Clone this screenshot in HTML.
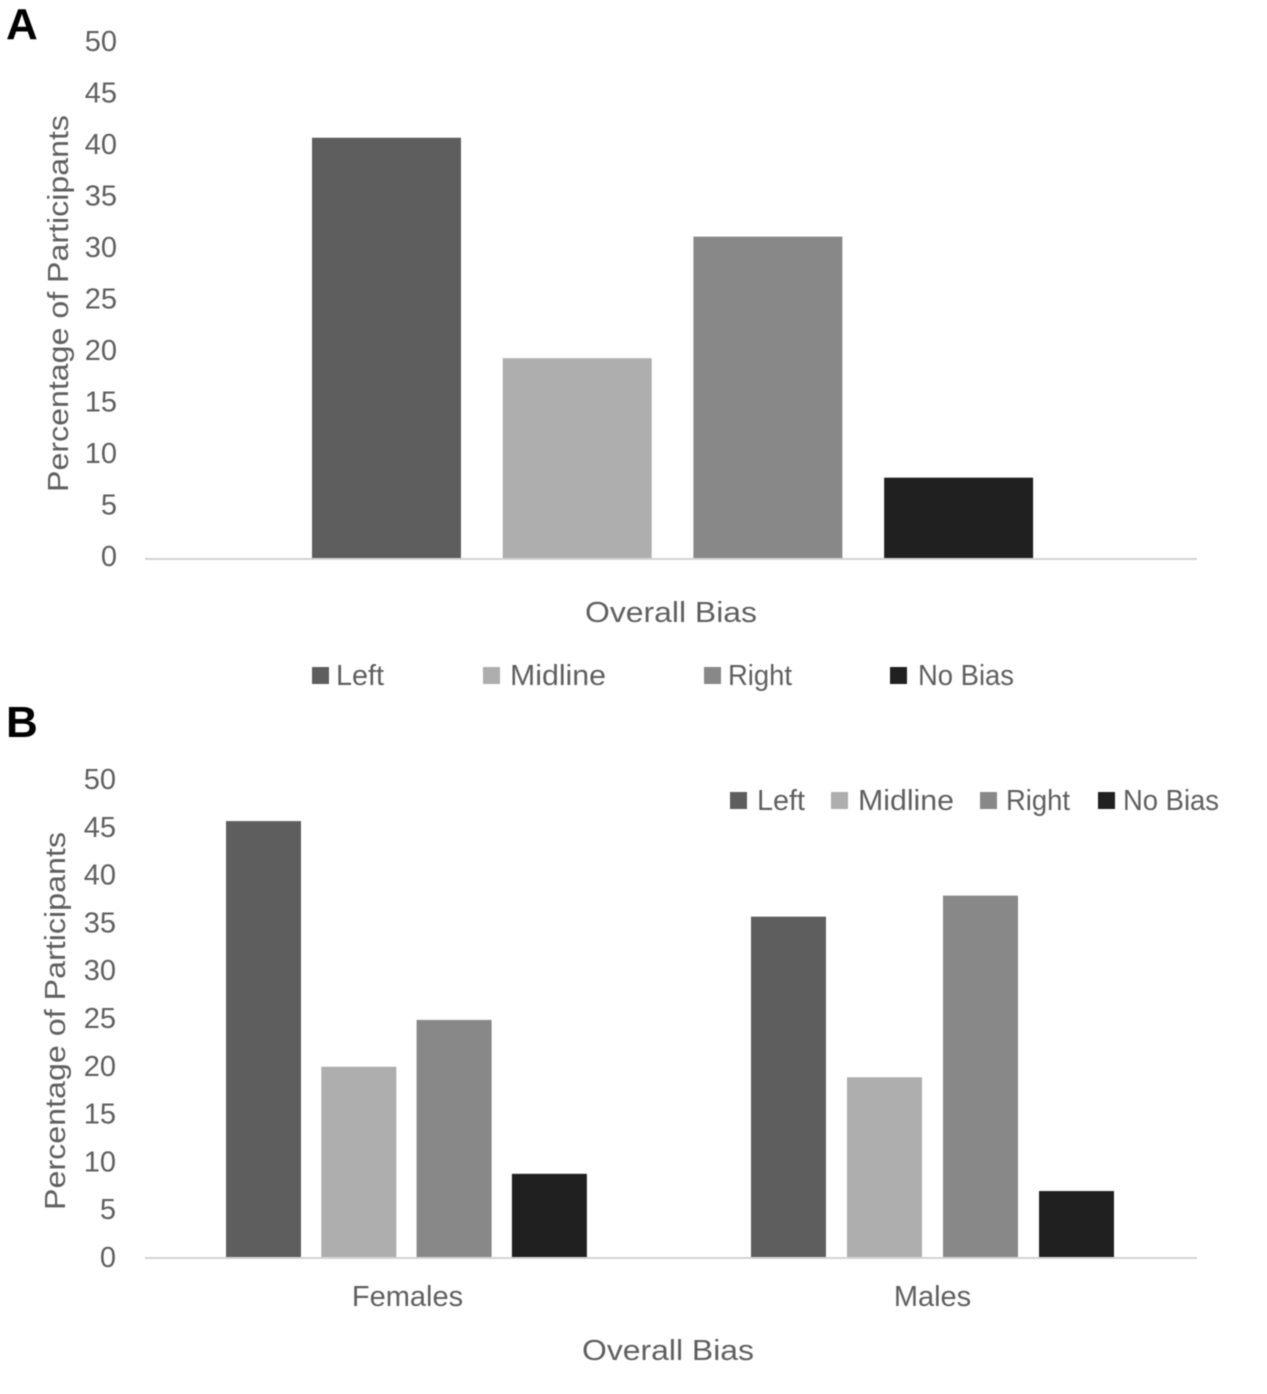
<!DOCTYPE html>
<html lang="en">
<head>
<meta charset="utf-8">
<title>Overall Bias Charts</title>
<style>
html,body{margin:0;padding:0;background:#fff;}
svg{display:block;filter:blur(0.4px);}
text{font-family:"Liberation Sans",sans-serif;fill:#5f5f5f;}
.panel{font-weight:bold;font-size:44px;fill:#000;}
.t{font-size:29px;}
</style>
</head>
<body>
<svg id="figure" xmlns="http://www.w3.org/2000/svg" width="1267" height="1394" viewBox="0 0 1267 1394">
  <g id="chart-a">
    <text class="panel" x="6" y="39">A</text>
    <g id="a-ticks"></g>
    <text class="t" transform="translate(68,492) rotate(-90)" textLength="377" lengthAdjust="spacingAndGlyphs">Percentage of Participants</text>
    <g id="a-bars"></g>
    <rect x="145" y="558" width="1052" height="2" fill="#d4d4d4"/>
    <text class="t" x="585" y="622" textLength="172" lengthAdjust="spacingAndGlyphs">Overall Bias</text>
    <g>
      <rect x="312" y="667" width="17" height="17" fill="#5e5e5e"/>
      <text class="t" x="336" y="685" textLength="48" lengthAdjust="spacingAndGlyphs">Left</text>
      <rect x="483" y="667" width="17" height="17" fill="#aeaeae"/>
      <text class="t" x="510" y="685" textLength="96" lengthAdjust="spacingAndGlyphs">Midline</text>
      <rect x="704" y="667" width="17" height="17" fill="#888888"/>
      <text class="t" x="728" y="685" textLength="64" lengthAdjust="spacingAndGlyphs">Right</text>
      <rect x="890" y="667" width="17" height="17" fill="#202020"/>
      <text class="t" x="918" y="685" textLength="96" lengthAdjust="spacingAndGlyphs">No Bias</text>
    </g>
  </g>
  <g id="chart-b">
    <text class="panel" x="6" y="737">B</text>
    <g id="b-ticks"></g>
    <text class="t" transform="translate(65,1210) rotate(-90)" textLength="378" lengthAdjust="spacingAndGlyphs">Percentage of Participants</text>
    <g id="b-bars"></g>
    <rect x="145" y="1257" width="1052" height="2" fill="#d4d4d4"/>
    <g id="b-cats"></g>
    <text class="t" x="582" y="1360" textLength="172" lengthAdjust="spacingAndGlyphs">Overall Bias</text>
    <g>
      <rect x="730" y="792" width="17" height="17" fill="#5e5e5e"/>
      <text class="t" x="757" y="810" textLength="48" lengthAdjust="spacingAndGlyphs">Left</text>
      <rect x="831" y="792" width="17" height="17" fill="#aeaeae"/>
      <text class="t" x="858" y="810" textLength="96" lengthAdjust="spacingAndGlyphs">Midline</text>
      <rect x="980" y="792" width="17" height="17" fill="#888888"/>
      <text class="t" x="1006" y="810" textLength="64" lengthAdjust="spacingAndGlyphs">Right</text>
      <rect x="1098" y="792" width="17" height="17" fill="#202020"/>
      <text class="t" x="1123" y="810" textLength="96" lengthAdjust="spacingAndGlyphs">No Bias</text>
    </g>
  </g>
</svg>
<script>
const biasCategories = ['Left', 'Midline', 'Right', 'No Bias'];
const overallValues = [40.8, 19.4, 31.2, 7.8];
const groupLabels = ['Females', 'Males'];
const femaleValues = [45.6, 19.9, 24.8, 8.7];
const maleValues = [35.6, 18.8, 37.8, 6.9];
const tickLabels = [0, 5, 10, 15, 20, 25, 30, 35, 40, 45, 50];

const SVG_NS = 'http://www.w3.org/2000/svg';
const barFill = { 'Left': '#5e5e5e', 'Midline': '#aeaeae', 'Right': '#888888', 'No Bias': '#202020' };

// Axis functions
function yA(v) { return 558 - v * 10.3; }
function yB(v) { return 1257 - v * 9.56; }
function xA(i) { return 312 + i * 190.7; }
function groupStart(g) { return 226 + g * 525; }
function barStep(g) { return 95.3 + g * 0.7; }
function xB(g, i) { return groupStart(g) + i * barStep(g); }
function groupCenter(g) { return groupStart(g) + 181.5; }

function makeRect(parent, x, y, w, h, fill) {
  const el = document.createElementNS(SVG_NS, 'rect');
  el.setAttribute('x', x);
  el.setAttribute('y', y);
  el.setAttribute('width', w);
  el.setAttribute('height', h);
  el.setAttribute('fill', fill);
  parent.appendChild(el);
  return el;
}
function makeText(parent, x, y, anchor, content) {
  const el = document.createElementNS(SVG_NS, 'text');
  el.setAttribute('x', x);
  el.setAttribute('y', y);
  el.setAttribute('text-anchor', anchor);
  el.setAttribute('class', 't');
  el.textContent = content;
  parent.appendChild(el);
  return el;
}

const aTicks = document.getElementById('a-ticks');
const bTicks = document.getElementById('b-ticks');
const aBars = document.getElementById('a-bars');
const bBars = document.getElementById('b-bars');
const bCats = document.getElementById('b-cats');

tickLabels.forEach(function (t) {
  const labelA = makeText(aTicks, 117, yA(t) + 8, 'end', t);
  
  
  const labelB = makeText(bTicks, 116, yB(t) + 10, 'end', t);
  
  
});

overallValues.forEach(function (v, i) {
  const bar = makeRect(aBars, xA(i), yA(v), 149, 558 - yA(v), barFill[biasCategories[i]]);
  
  
});

[femaleValues, maleValues].forEach(function (values, g) {
  values.forEach(function (v, i) {
    const bar = makeRect(bBars, xB(g, i), yB(v), 75, 1257 - yB(v), barFill[biasCategories[i]]);
    
    
  });
  const cat = makeText(bCats, groupCenter(g), 1306, 'middle', groupLabels[g]);
  
  
});
</script>
</body>
</html>
